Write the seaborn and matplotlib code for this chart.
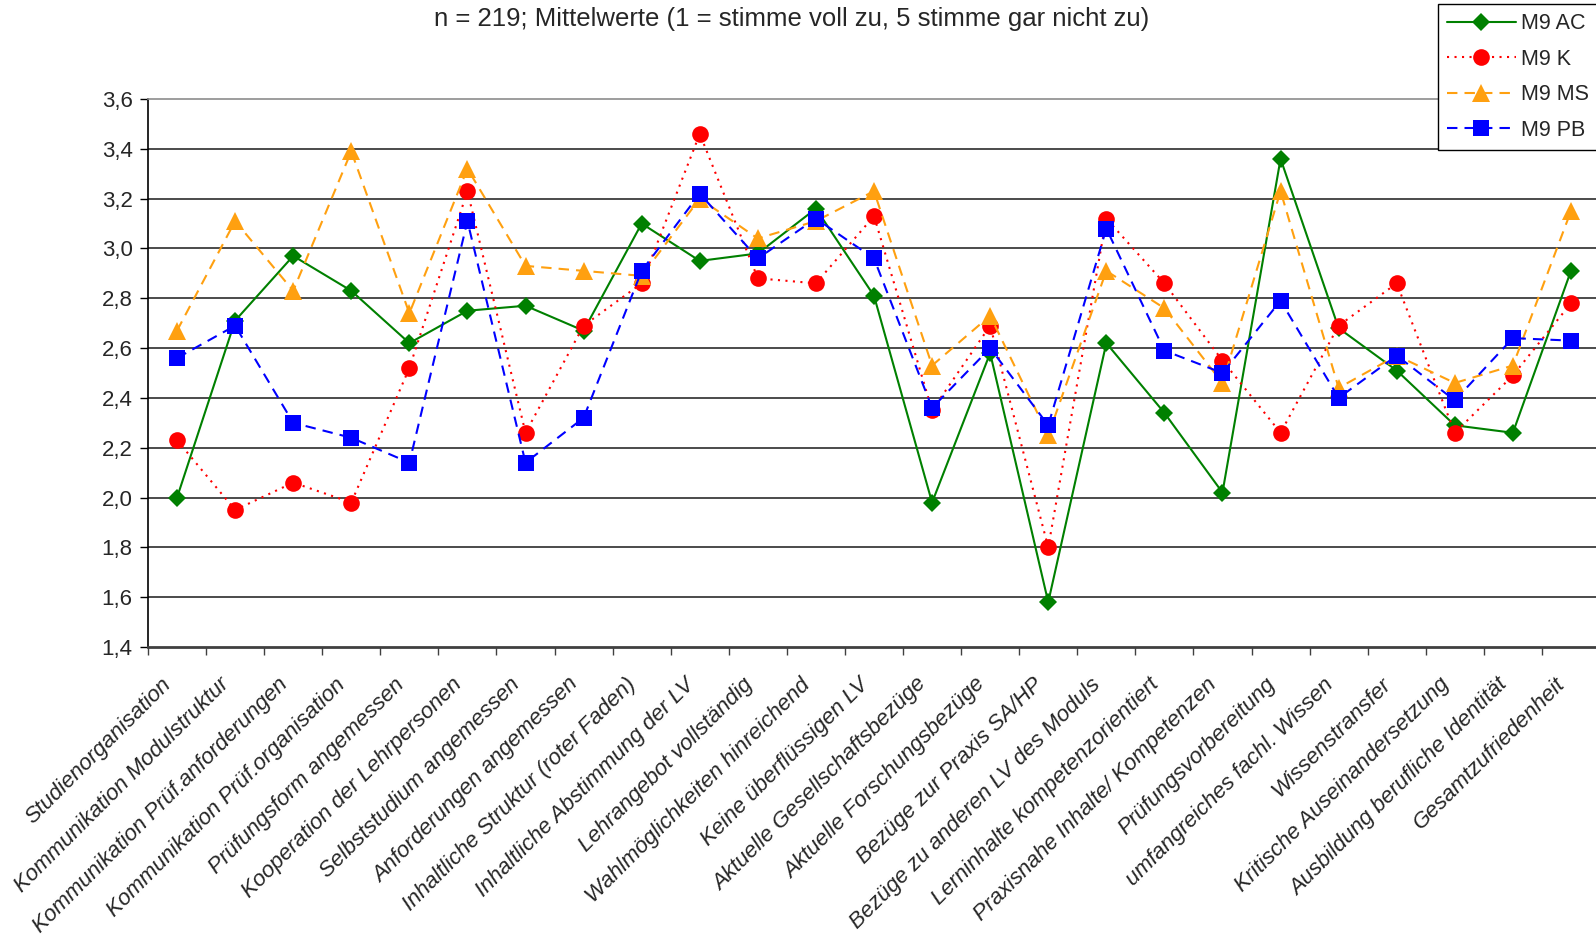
import numpy as np
import pandas as pd
import matplotlib
matplotlib.use("Agg")
import matplotlib.pyplot as plt
from matplotlib.ticker import FixedLocator, FuncFormatter, NullFormatter
import seaborn as sns

categories = [
    "Studienorganisation", "Kommunikation Modulstruktur",
    "Kommunikation Prüf.anforderungen", "Kommunikation Prüf.organisation",
    "Prüfungsform angemessen", "Kooperation der Lehrpersonen",
    "Selbststudium angemessen", "Anforderungen angemessen",
    "Inhaltliche Struktur (roter Faden)", "Inhaltliche Abstimmung der LV",
    "Lehrangebot vollständig", "Wahlmöglichkeiten hinreichend",
    "Keine überflüssigen LV", "Aktuelle Gesellschaftsbezüge",
    "Aktuelle Forschungsbezüge", "Bezüge zur Praxis SA/HP",
    "Bezüge zu anderen LV des Moduls", "Lerninhalte kompetenzorientiert",
    "Praxisnahe Inhalte/ Kompetenzen", "Prüfungsvorbereitung",
    "umfangreiches fachl. Wissen", "Wissenstransfer",
    "Kritische Auseinandersetzung", "Ausbildung berufliche Identität",
    "Gesamtzufriedenheit",
]

m9_ac = [2.00, 2.71, 2.97, 2.83, 2.62, 2.75, 2.77, 2.67, 3.10, 2.95, 2.98, 3.16, 2.81,
         1.98, 2.58, 1.58, 2.62, 2.34, 2.02, 3.36, 2.68, 2.51, 2.29, 2.26, 2.91]
m9_k = [2.23, 1.95, 2.06, 1.98, 2.52, 3.23, 2.26, 2.69, 2.86, 3.46, 2.88, 2.86, 3.13,
        2.35, 2.69, 1.80, 3.12, 2.86, 2.55, 2.26, 2.69, 2.86, 2.26, 2.49, 2.78]
m9_ms = [2.67, 3.11, 2.83, 3.39, 2.74, 3.32, 2.93, 2.91, 2.89, 3.20, 3.04, 3.11, 3.23,
         2.53, 2.73, 2.25, 2.91, 2.76, 2.46, 3.23, 2.44, 2.57, 2.46, 2.53, 3.15]
m9_pb = [2.56, 2.69, 2.30, 2.24, 2.14, 3.11, 2.14, 2.32, 2.91, 3.22, 2.96, 3.12, 2.96,
         2.36, 2.60, 2.29, 3.08, 2.59, 2.50, 2.79, 2.40, 2.57, 2.39, 2.64, 2.63]

series_names = ["M9 AC", "M9 K", "M9 MS", "M9 PB"]
series_values = [m9_ac, m9_k, m9_ms, m9_pb]

title = "n = 219; Mittelwerte (1 = stimme voll zu, 5 stimme gar nicht zu)"

# long-format table for seaborn
frames = []
for name, vals in zip(series_names, series_values):
    frames.append(pd.DataFrame({
        "pos": np.arange(len(categories)),
        "Kategorie": categories,
        "Reihe": name,
        "Wert": vals,
    }))
df = pd.concat(frames, ignore_index=True)

palette = {"M9 AC": "#008000", "M9 K": "#FF0000", "M9 MS": "#FFA010", "M9 PB": "#0000FF"}
markers = {"M9 AC": "D", "M9 K": "o", "M9 MS": "^", "M9 PB": "s"}
dashes = {"M9 AC": "", "M9 K": (1, 2.6), "M9 MS": (5, 3.4), "M9 PB": (5, 3.4)}
msizes = {"M9 AC": 9, "M9 K": 12, "M9 MS": 13, "M9 PB": 12}

sns.set_theme(style="white")
plt.rcParams["font.family"] = ["Liberation Sans", "DejaVu Sans"]

fig = plt.figure(figsize=(15.96, 9.34), dpi=100)
ax = fig.add_axes([148 / 1596, 1 - 647 / 934, (1600 - 148) / 1596, (647 - 99) / 934])

sns.lineplot(data=df, x="pos", y="Wert", hue="Reihe", style="Reihe",
             hue_order=series_names, style_order=series_names,
             palette=palette, markers=markers, dashes=dashes,
             linewidth=1.5, sort=False, legend=False, ax=ax, zorder=3)

for line, name in zip(ax.lines, series_names):
    c = palette[name]
    line.set_markeredgecolor(c)
    line.set_markerfacecolor(c)
    line.set_markeredgewidth(0)
    line.set_markersize(msizes[name])
    line.set_label(name)

ax.set_xlim(-0.5, len(categories) - 0.5)
ax.set_ylim(1.4, 3.6)

yt = np.round(np.arange(1.4, 3.61, 0.2), 1)
ax.yaxis.set_major_locator(FixedLocator(yt))
ax.yaxis.set_major_formatter(FuncFormatter(lambda v, p: f"{v:.1f}".replace(".", ",")))
for v in yt[1:-1]:
    ax.axhline(v, color="#1a1a1a", lw=1.1, zorder=1)

# category names, slanted below the axis
ax.set_xticks(np.arange(len(categories)))
ax.xaxis.set_major_formatter(NullFormatter())
for i, cat in enumerate(categories):
    ax.annotate(cat, xy=(i, 0), xycoords=("data", "axes fraction"),
                xytext=(-11.5, -19.5), textcoords="offset points",
                rotation=45, ha="right", va="top", rotation_mode="anchor",
                fontstyle="italic", fontsize=16, annotation_clip=False)

ax.set_xticks(np.arange(-0.5, len(categories), 1), minor=True)
ax.tick_params(axis="x", which="major", length=0)
ax.tick_params(axis="x", which="minor", length=6, width=1, color="#404040", direction="out", bottom=True)
ax.tick_params(axis="y", which="major", length=6, width=1, color="#000000", direction="out",
               left=True, labelsize=16, pad=5)

ax.set_xlabel("")
ax.set_ylabel("")
ax.grid(False)

ax.spines["right"].set_visible(False)
ax.spines["top"].set_color("#8c8c8c")
ax.spines["top"].set_linewidth(1.2)
ax.spines["left"].set_color("#000000")
ax.spines["left"].set_linewidth(1.2)
ax.spines["bottom"].set_color("#404040")
ax.spines["bottom"].set_linewidth(2)

fig.text(792 / 1596, 1 - 19 / 934, title, ha="center", va="center", fontsize=18.5)

leg = ax.legend(handles=ax.lines[:4], labels=series_names, loc="upper left",
                bbox_to_anchor=(1438 / 1596, 1 - 4 / 934), bbox_transform=fig.transFigure,
                fontsize=15.5, frameon=True, fancybox=False, shadow=False,
                handlelength=3.2, handletextpad=0.25, labelspacing=0.68,
                borderpad=0.42, borderaxespad=0)
leg.get_frame().set_edgecolor("#000000")
leg.get_frame().set_linewidth(1.0)
leg.get_frame().set_alpha(1)
leg.set_zorder(10)

fig.savefig("out.png", dpi=100)
